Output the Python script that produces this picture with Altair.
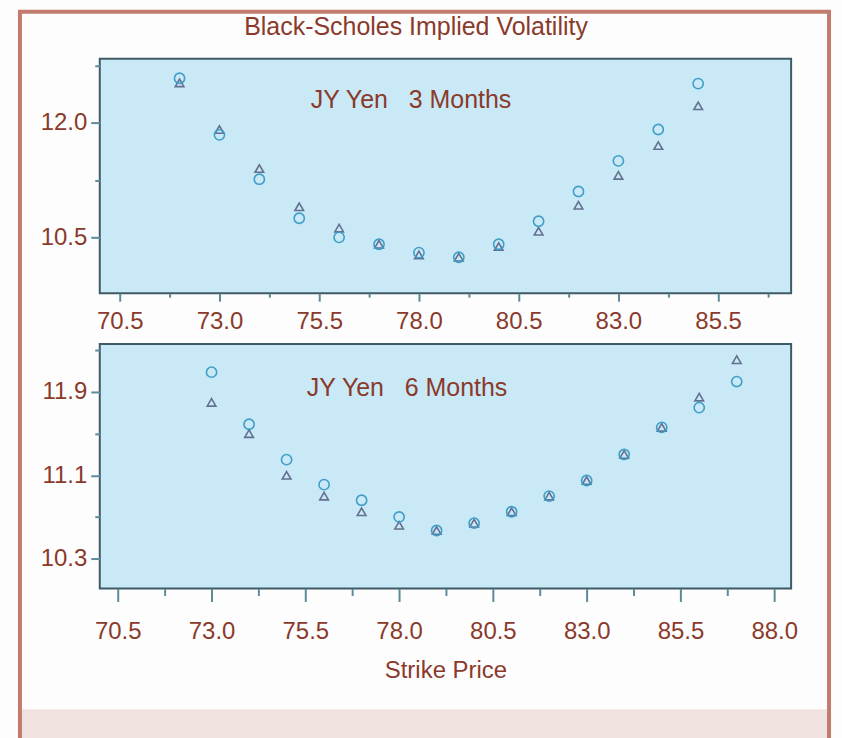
import altair as alt
import pandas as pd

# Implied volatility by strike, 3-month options
strikes_3m = [72, 73, 74, 75, 76, 77, 78, 79, 80, 81, 82, 83, 84, 85]
vol_circle_3m = [12.58, 11.84, 11.26, 10.75, 10.50, 10.41, 10.30, 10.24, 10.41, 10.71, 11.10, 11.50, 11.91, 12.51]
vol_triangle_3m = [12.52, 11.91, 11.40, 10.90, 10.62, 10.41, 10.27, 10.24, 10.38, 10.58, 10.92, 11.31, 11.70, 12.22]

# Implied volatility by strike, 6-month options
strikes_6m = [73, 74, 75, 76, 77, 78, 79, 80, 81, 82, 83, 84, 85, 86, 87]
vol_circle_6m = [12.09, 11.59, 11.25, 11.01, 10.86, 10.70, 10.57, 10.64, 10.75, 10.90, 11.05, 11.30, 11.56, 11.75, 12.00]
vol_triangle_6m = [11.80, 11.50, 11.10, 10.90, 10.75, 10.62, 10.57, 10.64, 10.75, 10.90, 11.05, 11.30, 11.56, 11.85, 12.21]

# Axis ticks (labelled + minor)
x_ticks_3m = [70.5, 71.75, 73.0, 74.25, 75.5, 76.75, 78.0, 79.25, 80.5, 81.75, 83.0, 84.25, 85.5, 86.75]
x_labels_3m = ["70.5", "73.0", "75.5", "78.0", "80.5", "83.0", "85.5"]
x_ticks_6m = [70.5, 71.75, 73.0, 74.25, 75.5, 76.75, 78.0, 79.25, 80.5, 81.75, 83.0, 84.25, 85.5, 86.75, 88.0]
x_labels_6m = ["70.5", "73.0", "75.5", "78.0", "80.5", "83.0", "85.5", "88.0"]
y_ticks_3m = [10.5, 11.25, 12.0, 12.75]
y_labels_3m = ["10.5", "12.0"]
y_ticks_6m = [10.3, 10.7, 11.1, 11.5, 11.9, 12.3]
y_labels_6m = ["10.3", "11.1", "11.9"]

FONT = "Liberation Sans, Arial, Helvetica, sans-serif"
TEXT = "#8a3a2b"
FRAME = "#c27b6c"
BAND = "#f0e2de"
PANEL = "#c9e9f6"
CIRCLE = "#3a9bc6"
TRIANGLE = "#5f6a8c"
TICK = "#5d8a9b"
NBSP = "\u00a0"

W = 693


def long_table(strikes, circles, triangles):
    rows = []
    for s, c, t in zip(strikes, circles, triangles):
        rows.append({"strike": s, "vol": t, "series": "triangle"})
        rows.append({"strike": s, "vol": c, "series": "circle"})
    return pd.DataFrame(rows)


def label_expr(labels):
    arr = ",".join(f"'{l}'" for l in labels)
    return f"indexof([{arr}], format(datum.value, '.1f')) >= 0 ? format(datum.value, '.1f') : ''"


def major_test(labels):
    arr = ",".join(f"'{l}'" for l in labels)
    return f"indexof([{arr}], format(datum.value, '.1f')) >= 0"


def panel(df, xdom, xticks, xlabels, xtick_len, xpad, ydom, yticks, ylabels, caption, cap_x, cap_y, xtitle):
    base = alt.Chart(df)
    x_kwargs = dict(
        values=xticks,
        labelExpr=label_expr(xlabels),
        tickSize=alt.condition(major_test(xlabels), alt.value(xtick_len[0]), alt.value(xtick_len[1])),
        labelPadding=xpad,
        title=None,
    )
    if xtitle:
        x_kwargs.update(
            title=xtitle,
            titleFontSize=24,
            titleFont=FONT,
            titleColor=TEXT,
            titleFontWeight="normal",
            titlePadding=15,
        )
    y_axis = alt.Axis(
        values=yticks,
        labelExpr=label_expr(ylabels),
        tickSize=alt.condition(major_test(ylabels), alt.value(9), alt.value(5)),
        title=None,
    )
    pts = base.mark_point(filled=False, strokeWidth=1.6, opacity=0.95).encode(
        x=alt.X("strike:Q", scale=alt.Scale(domain=xdom, nice=False, zero=False), axis=alt.Axis(**x_kwargs)),
        y=alt.Y("vol:Q", scale=alt.Scale(domain=ydom, nice=False, zero=False), axis=y_axis),
        shape=alt.Shape("series:N", scale=alt.Scale(domain=["circle", "triangle"], range=["circle", "triangle-up"]), legend=None),
        color=alt.Color("series:N", scale=alt.Scale(domain=["circle", "triangle"], range=[CIRCLE, TRIANGLE]), legend=None),
        size=alt.Size("series:N", scale=alt.Scale(domain=["circle", "triangle"], range=[105, 75]), legend=None),
    )
    cap = alt.Chart(pd.DataFrame({"t": [caption]})).mark_text(
        font=FONT, fontSize=25, color=TEXT, align="center", baseline="middle"
    ).encode(text="t:N", x=alt.value(cap_x), y=alt.value(cap_y))
    return pts, cap


one = pd.DataFrame({"k": [0]})

# Page furniture drawn relative to the top panel's plot origin
canvas = alt.Chart(one).mark_rect(fill="#fdfdfd", opacity=0).encode(
    x=alt.value(-99), x2=alt.value(743), y=alt.value(-57), y2=alt.value(681)
)
band = alt.Chart(one).mark_rect(fill=BAND).encode(
    x=alt.value(-78), x2=alt.value(730), y=alt.value(652), y2=alt.value(681)
)
left_edge = alt.Chart(one).mark_rule(color=FRAME, strokeWidth=4).encode(
    x=alt.value(-80), y=alt.value(-47), y2=alt.value(681)
)
right_edge = alt.Chart(one).mark_rule(color=FRAME, strokeWidth=4).encode(
    x=alt.value(731), y=alt.value(-47), y2=alt.value(681)
)
top_edge = alt.Chart(one).mark_rule(color=FRAME, strokeWidth=4).encode(
    y=alt.value(-47), x=alt.value(-82), x2=alt.value(733)
)
title = alt.Chart(pd.DataFrame({"t": ["Black-Scholes Implied Volatility"]})).mark_text(
    font=FONT, fontSize=25, color=TEXT, align="center", baseline="middle"
).encode(text="t:N", x=alt.value(317), y=alt.value(-32))

pts3, cap3 = panel(
    long_table(strikes_3m, vol_circle_3m, vol_triangle_3m),
    [70.0, 87.33], x_ticks_3m, x_labels_3m, (8, 4), 8,
    [9.77, 12.835], y_ticks_3m, y_labels_3m,
    f"JY Yen{NBSP * 3}3 Months", 312, 41, None,
)
pts6, cap6 = panel(
    long_table(strikes_6m, vol_circle_6m, vol_triangle_6m),
    [70.02, 88.45], x_ticks_6m, x_labels_6m, (13, 7), 18,
    [10.013, 12.36], y_ticks_6m, y_labels_6m,
    f"JY Yen{NBSP * 3}6 Months", 308, 44, "Strike Price",
)

top = alt.layer(canvas, band, left_edge, right_edge, top_edge, title, cap3, pts3).properties(width=W, height=235)
bottom = alt.layer(cap6, pts6).properties(width=W, height=245)

chart = (
    alt.vconcat(top, bottom, spacing=51, bounds="flush")
    .properties(padding=0, background="#fdfdfd")
    .configure_view(fill=PANEL, stroke="#3e5a66", strokeWidth=2)
    .configure_axis(
        labelFont=FONT,
        labelFontSize=24,
        labelColor=TEXT,
        labelPadding=4,
        tickColor=TICK,
        tickWidth=2,
        domain=False,
        grid=False,
    )
)

chart.save("out.html", embed_options={"renderer": "svg", "actions": False})
